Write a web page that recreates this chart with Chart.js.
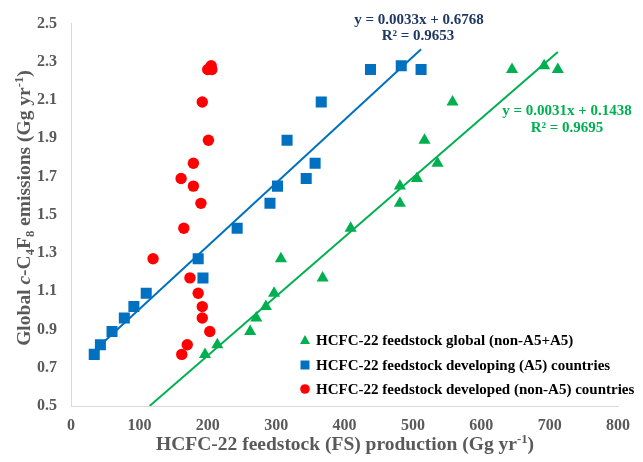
<!DOCTYPE html>
<html>
<head>
<meta charset="utf-8">
<script src="https://cdn.jsdelivr.net/npm/chart.js@4.4.1/dist/chart.umd.min.js"></script>
<style>
  html, body { margin: 0; padding: 0; background: #ffffff; }
  #wrap { width: 643px; height: 462px; position: relative; }
</style>
</head>
<body>
<div id="wrap"><canvas id="c" width="643" height="462"></canvas></div>
<script>
// ---- Data ----
const emissions  = [0.77, 0.82, 0.89, 0.96, 1.02, 1.09, 1.17, 1.27, 1.43, 1.56, 1.65, 1.69, 1.77, 1.89, 2.09, 2.26, 2.28, 2.26];
const developed  = [162, 170, 203, 192, 192, 186, 174, 120, 165, 190, 179, 161, 179, 201, 192, 206, 205, 200];
const developing = [34, 43, 60, 78, 92, 110, 193, 186, 243, 291, 302, 344, 357, 316, 366, 438, 483, 512];
const globalFS   = [196, 214, 262, 271, 285, 297, 368, 307, 409, 481, 481, 506, 536, 517, 558, 645, 692, 712];

const seriesLabels = [
  'HCFC-22 feedstock global (non-A5+A5)',
  'HCFC-22 feedstock developing (A5) countries',
  'HCFC-22 feedstock developed (non-A5) countries'
];

// Linear fits shown in the figure
const fitDeveloping = { slope: 0.0033, intercept: 0.6768, r2: 0.9653, xFrom: 34,  xTo: 512 };
const fitGlobal     = { slope: 0.0031, intercept: 0.1438, r2: 0.9695, xFrom: 115, xTo: 712 };

const xTicks = [0, 100, 200, 300, 400, 500, 600, 700, 800];
const yTicks = [0.5, 0.7, 0.9, 1.1, 1.3, 1.5, 1.7, 1.9, 2.1, 2.3, 2.5];

// ---- Styles ----
const GREEN = '#00B050', BLUE = '#0070C0', RED = '#FF0000', NAVY = '#1F3864', GREY = '#595959';
const SERIF = '"Liberation Serif", "Times New Roman", serif';

const toPts = (xs) => xs.map((x, i) => ({ x: x, y: emissions[i] }));
const fitPts = (f) => [
  { x: f.xFrom, y: f.slope * f.xFrom + f.intercept },
  { x: f.xTo,   y: f.slope * f.xTo   + f.intercept }
];

// Rich-text drawing (sub/superscripts, italic) for axis titles
function richWidth(ctx, segs, size) {
  let w = 0;
  segs.forEach(s => {
    const fs = (s.sub || s.sup) ? size * 0.65 : size;
    ctx.font = (s.it ? 'italic ' : '') + 'bold ' + fs + 'px ' + SERIF;
    w += ctx.measureText(s.t).width;
  });
  return w;
}
function drawRich(ctx, segs, size, x, y) {
  let cx = x;
  segs.forEach(s => {
    const fs = (s.sub || s.sup) ? size * 0.65 : size;
    ctx.font = (s.it ? 'italic ' : '') + 'bold ' + fs + 'px ' + SERIF;
    let dy = 0;
    if (s.sub) dy = size * 0.18;
    if (s.sup) dy = -size * 0.38;
    ctx.fillText(s.t, cx, y + dy);
    cx += ctx.measureText(s.t).width;
  });
}

const yTitle = [
  { t: 'Global ' }, { t: 'c', it: true }, { t: '-C' }, { t: '4', sub: true }, { t: 'F' }, { t: '8', sub: true },
  { t: ' emissions (Gg yr' }, { t: '-1', sup: true }, { t: ')' }
];
const xTitle = [
  { t: 'HCFC-22 feedstock (FS) production (Gg yr' }, { t: '-1', sup: true }, { t: ')' }
];

const annotPlugin = {
  id: 'annot',
  afterDraw(chart) {
    const ctx = chart.ctx;
    ctx.save();
    ctx.textBaseline = 'alphabetic';
    ctx.fillStyle = GREY;
    // X title
    const tsz = 19.5;
    let w = richWidth(ctx, xTitle, tsz);
    drawRich(ctx, xTitle, tsz, 345 - w / 2, 450);
    // Y title (rotated)
    ctx.save();
    ctx.translate(30, 208);
    ctx.rotate(-Math.PI / 2);
    w = richWidth(ctx, yTitle, tsz);
    drawRich(ctx, yTitle, tsz, -w / 2, 0);
    ctx.restore();

    // Equations
    ctx.textAlign = 'center';
    ctx.textBaseline = 'middle';
    ctx.font = 'bold 15px ' + SERIF;
    ctx.fillStyle = NAVY;
    ctx.fillText('y = ' + fitDeveloping.slope.toFixed(4) + 'x + ' + fitDeveloping.intercept.toFixed(4), 419, 20);
    ctx.fillText('R² = ' + fitDeveloping.r2.toFixed(4), 418, 36);
    ctx.fillStyle = GREEN;
    ctx.fillText('y = ' + fitGlobal.slope.toFixed(4) + 'x + ' + fitGlobal.intercept.toFixed(4), 567, 111);
    ctx.fillText('R² = ' + fitGlobal.r2.toFixed(4), 567, 128);

    // Legend
    const rows = [
      { c: GREEN, s: 'triangle', y: 340 },
      { c: BLUE,  s: 'rect',     y: 365 },
      { c: RED,   s: 'circle',   y: 389 }
    ];
    ctx.textAlign = 'left';
    ctx.font = 'bold 15px ' + SERIF;
    rows.forEach((r, i) => {
      ctx.fillStyle = r.c;
      const mx = 305;
      ctx.beginPath();
      if (r.s === 'triangle') {
        ctx.moveTo(mx, r.y - 5); ctx.lineTo(mx + 5, r.y + 4); ctx.lineTo(mx - 5, r.y + 4); ctx.closePath();
      } else if (r.s === 'rect') {
        ctx.rect(mx - 4.5, r.y - 4.5, 9, 9);
      } else {
        ctx.arc(mx, r.y, 4.8, 0, Math.PI * 2);
      }
      ctx.fill();
      ctx.fillStyle = '#000000';
      ctx.fillText(seriesLabels[i], 316, r.y + 1);
    });
    ctx.restore();
  }
};

new Chart(document.getElementById('c'), {
  type: 'scatter',
  data: {
    datasets: [
      { type: 'line', label: 'fit developing', data: fitPts(fitDeveloping), borderColor: BLUE, borderWidth: 2, pointRadius: 0, fill: false, order: 0 },
      { type: 'line', label: 'fit global', data: fitPts(fitGlobal), borderColor: GREEN, borderWidth: 2, pointRadius: 0, fill: false, order: 0 },
      { label: seriesLabels[2], data: toPts(developed), pointStyle: 'circle', pointRadius: 5.7, pointBackgroundColor: RED, pointBorderColor: RED, pointBorderWidth: 0, order: 1 },
      { label: seriesLabels[1], data: toPts(developing), pointStyle: 'rect', pointRadius: 7.8, pointBackgroundColor: BLUE, pointBorderColor: BLUE, pointBorderWidth: 0, order: 2 },
      { label: seriesLabels[0], data: toPts(globalFS), pointStyle: 'triangle', pointRadius: 7, pointBackgroundColor: GREEN, pointBorderColor: GREEN, pointBorderWidth: 0, order: 3 }
    ]
  },
  options: {
    responsive: false,
    animation: false,
    devicePixelRatio: 1,
    layout: { padding: { left: 0, top: 20, right: 25, bottom: 0 } },
    plugins: { legend: { display: false }, tooltip: { enabled: false } },
    scales: {
      x: {
        type: 'linear', min: 0, max: 800,
        afterFit: (s) => { s.height = 56; },
        afterBuildTicks: (s) => { s.ticks = xTicks.map(v => ({ value: v })); },
        grid: { display: false, drawTicks: false },
        border: { display: true, color: '#D9D9D9', width: 1 },
        ticks: { color: GREY, padding: 10, font: { family: SERIF, size: 16, weight: 'bold' }, callback: (v) => String(v) }
      },
      y: {
        type: 'linear', min: 0.5, max: 2.5,
        afterFit: (s) => { s.width = 71; },
        afterBuildTicks: (s) => { s.ticks = yTicks.map(v => ({ value: v })); },
        grid: { display: false, drawTicks: false },
        border: { display: true, color: '#D9D9D9', width: 1 },
        ticks: { color: GREY, padding: 14, font: { family: SERIF, size: 16, weight: 'bold' }, callback: (v) => Number(v).toFixed(1) }
      }
    }
  },
  plugins: [annotPlugin]
});
</script>
</body>
</html>
